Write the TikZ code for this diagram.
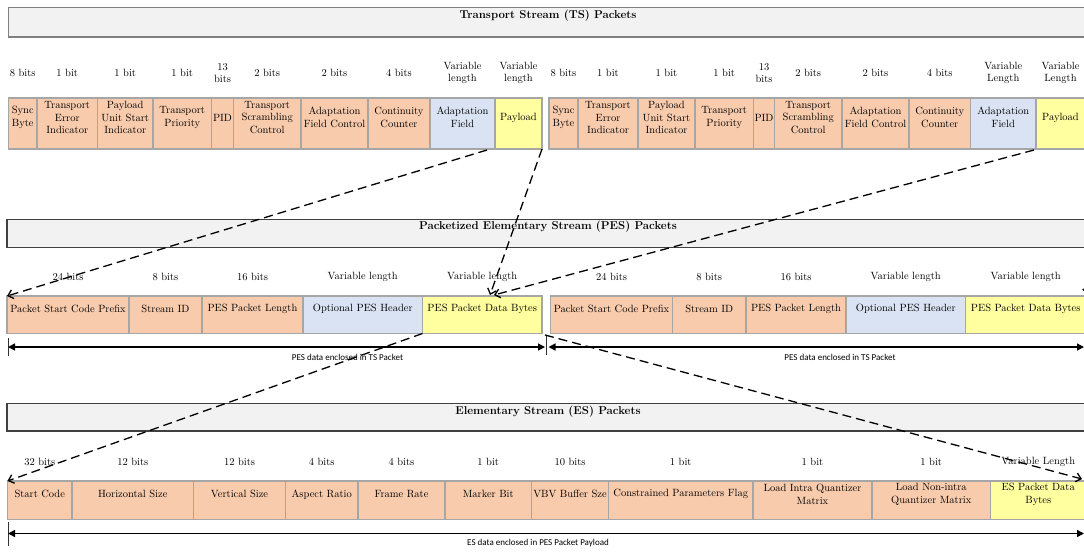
\documentclass[tikz,border=0pt]{standalone}
\usepackage{fontspec}
\newfontfamily\notefont{Carlito}
\usetikzlibrary{arrows.meta}

\definecolor{fieldpeach}{HTML}{F8CBAD}
\definecolor{fieldblue}{HTML}{DAE3F3}
\definecolor{fieldyellow}{HTML}{FFFF9F}
\definecolor{fieldline}{HTML}{A6A6A6}
\definecolor{bannerfill}{HTML}{F2F2F2}
\definecolor{bannerlight}{HTML}{808080}
\definecolor{bannerdark}{HTML}{404040}

\tikzset{
  field/.style={draw=fieldline, line width=1.4pt, inner sep=0pt, outer sep=0pt},
  peach/.style={fill=fieldpeach},
  blue/.style={fill=fieldblue},
  yellow/.style={fill=fieldyellow},
  fieldtext/.style={font=\fontsize{10.5}{12.5}\selectfont, align=center, inner sep=0pt},
  banner/.style={fill=bannerfill, line width=1.5pt, inner sep=0pt, outer sep=0pt},
  bannertext/.style={font=\fontsize{11.4}{13}\selectfont\bfseries, inner sep=0pt},
  notetext/.style={font=\notefont\fontsize{9}{10.5}\selectfont, inner sep=0pt},
  flow/.style={line width=1.3pt, dash pattern=on 9pt off 5pt,
    -{Straight Barb[length=5pt,width=9pt]}},
  span/.style={line width=1.4pt,
    {Triangle[length=7pt,width=7pt]}-{Triangle[length=7pt,width=7pt]}},
  tickmark/.style={line width=1pt, draw=black!80},
}

% one packet field: name, left x, right x, top y, bottom y, fill, text, size label, label y
\newcommand{\field}[9]{%
  \node[field,#6,minimum width={(#3-#2)*1pt},minimum height={(#5-#4)*1pt}]
    (#1) at ({(#2+#3)/2},{(#4+#5)/2}) {};
  \node[fieldtext] (#1-t) at ([yshift=6pt]#1.center) {#7};
  \node[fieldtext] (#1-b) at (#1.center |- 0,#9) {#8};
}

\begin{document}
\begin{tikzpicture}[x=1pt,y=-1pt]
\useasboundingbox (0,0) rectangle (1084,558);
\clip (0,0) rectangle (1084,558);

% ---------- banners ----------
\node[banner, draw=bannerlight, minimum width=1082pt, minimum height=29.5pt]
  (tsbar) at (549.5,22.25) {};
\node[bannertext] (tstitle) at (548,16) {Transport Stream (TS) Packets};

\node[banner, draw=bannerdark, minimum width=1083pt, minimum height=28pt]
  (pesbar) at (548.5,233.5) {};
\node[bannertext] (pestitle) at (548,227) {Packetized Elementary Stream (PES) Packets};

\node[banner, draw=bannerdark, minimum width=1083pt, minimum height=27.5pt]
  (esbar) at (548.5,417.25) {};
\node[bannertext] (estitle) at (548,412) {Elementary Stream (ES) Packets};

% ---------- TS packet 1 ----------
\field{ts1-sync}{8.5}{37}{98}{149}{peach}{Sync\\Byte}{8 bits}{73}
\field{ts1-tei}{37}{97.5}{98}{149}{peach}{Transport\\Error\\Indicator}{1 bit}{73}
\field{ts1-pusi}{97.5}{153}{98}{149}{peach}{Payload\\Unit Start\\Indicator}{1 bit}{73}
\field{ts1-tp}{153}{211.5}{98}{149}{peach}{Transport\\Priority}{1 bit}{73}
\field{ts1-pid}{211.5}{233.5}{98}{149}{peach}{PID}{13\\bits}{73}
\field{ts1-tsc}{233.5}{301}{98}{149}{peach}{Transport\\Scrambling\\Control}{2 bits}{73}
\field{ts1-afc}{301}{368}{98}{149}{peach}{Adaptation\\Field Control}{2 bits}{73}
\field{ts1-cc}{368}{430}{98}{149}{peach}{Continuity\\Counter}{4 bits}{73}
\field{ts1-af}{430}{495}{98}{149}{blue}{Adaptation\\Field}{Variable\\length}{73}
\field{ts1-pl}{495}{542}{98}{149}{yellow}{Payload}{Variable\\length}{73}

% ---------- TS packet 2 ----------
\field{ts2-sync}{549}{578}{98}{149}{peach}{Sync\\Byte}{8 bits}{73}
\field{ts2-tei}{578}{638}{98}{149}{peach}{Transport\\Error\\Indicator}{1 bit}{73}
\field{ts2-pusi}{638}{695}{98}{149}{peach}{Payload\\Unit Start\\Indicator}{1 bit}{73}
\field{ts2-tp}{695}{753.5}{98}{149}{peach}{Transport\\Priority}{1 bit}{73}
\field{ts2-pid}{753.5}{774.5}{98}{149}{peach}{PID}{13\\bits}{73}
\field{ts2-tsc}{774.5}{842}{98}{149}{peach}{Transport\\Scrambling\\Control}{2 bits}{73}
\field{ts2-afc}{842}{909}{98}{149}{peach}{Adaptation\\Field Control}{2 bits}{73}
\field{ts2-cc}{909}{970.5}{98}{149}{peach}{Continuity\\Counter}{4 bits}{73}
\field{ts2-af}{970.5}{1036}{98}{149}{blue}{Adaptation\\Field}{Variable\\Length}{73}
\field{ts2-pl}{1036}{1085}{98}{149}{yellow}{Payload}{Variable\\Length}{73}

% ---------- PES packet 1 ----------
\field{pes1-pscp}{7}{129}{296}{333.5}{peach}{Packet Start Code Prefix}{24 bits}{277}
\field{pes1-sid}{129}{202}{296}{333.5}{peach}{Stream ID}{8 bits}{277}
\field{pes1-len}{202}{303}{296}{333.5}{peach}{PES Packet Length}{16 bits}{277}
\field{pes1-hdr}{303}{422.5}{296}{333.5}{blue}{Optional PES Header}{Variable length}{277}
\field{pes1-data}{422.5}{542}{296}{333.5}{yellow}{PES Packet Data Bytes}{Variable length}{277}

% ---------- PES packet 2 ----------
\field{pes2-pscp}{550.5}{672.5}{296}{333.5}{peach}{Packet Start Code Prefix}{24 bits}{277}
\field{pes2-sid}{672.5}{746}{296}{333.5}{peach}{Stream ID}{8 bits}{277}
\field{pes2-len}{746}{846}{296}{333.5}{peach}{PES Packet Length}{16 bits}{277}
\field{pes2-hdr}{846}{965.5}{296}{333.5}{blue}{Optional PES Header}{Variable length}{277}
\field{pes2-data}{965.5}{1086}{296}{333.5}{yellow}{PES Packet Data Bytes}{Variable length}{277}

% ---------- ES packet ----------
\field{es-sc}{7.5}{72}{481}{519.5}{peach}{Start Code}{32 bits}{462}
\field{es-hs}{72}{193.5}{481}{519.5}{peach}{Horizontal Size}{12 bits}{462}
\field{es-vs}{193.5}{285.5}{481}{519.5}{peach}{Vertical Size}{12 bits}{462}
\field{es-ar}{285.5}{358}{481}{519.5}{peach}{Aspect Ratio}{4 bits}{462}
\field{es-fr}{358}{445}{481}{519.5}{peach}{Frame Rate}{4 bits}{462}
\field{es-mb}{445}{531.5}{481}{519.5}{peach}{Marker Bit}{1 bit}{462}
\field{es-vbv}{531.5}{608.5}{481}{519.5}{peach}{VBV Buffer Sze}{10 bits}{462}
\field{es-cpf}{608.5}{753}{481}{519.5}{peach}{Constrained Parameters Flag}{1 bit}{462}
\field{es-liqm}{753}{872}{481}{519.5}{peach}{Load Intra Quantizer\\Matrix}{1 bit}{462}
\field{es-lniqm}{872}{990.5}{481}{519.5}{peach}{Load Non-intra\\Quantizer Matrix}{1 bit}{462}
\field{es-data}{990.5}{1086}{481}{519.5}{yellow}{ES Packet Data\\Bytes}{Variable Length}{462}

% ---------- extent arrows ----------
\coordinate (pes1L) at (8,347);
\coordinate (pes1R) at (545,347);
\coordinate (pes2L) at (548.5,347);
\coordinate (pes2R) at (1084,347);
\coordinate (tickA1) at (8,338);   \coordinate (tickA2) at (8,356);
\coordinate (tickB1) at (546.7,335); \coordinate (tickB2) at (546.7,355);
\draw[tickmark] (tickA1) -- (tickA2);
\draw[tickmark] (tickB1) -- (tickB2);
\draw[span] (pes1L) -- (pes1R);
\draw[span] (pes2L) -- (pes2R);
\node[notetext] (pes1note) at (347.5,357.5) {PES data enclosed in TS Packet};
\node[notetext] (pes2note) at (840,357.5) {PES data enclosed in TS Packet};

\coordinate (esL) at (8,533.5);
\coordinate (esR) at (1084,533.5);
\coordinate (tickC1) at (8,522); \coordinate (tickC2) at (8,546);
\draw[tickmark] (tickC1) -- (tickC2);
\draw[span] (esL) -- (esR);
\node[notetext] (esnote) at (538,543.5) {ES data enclosed in PES Packet Payload};

% ---------- payload mapping lines ----------
\coordinate (m1) at (487,150);
\coordinate (m2) at (490,295);
\coordinate (m3) at (1034,150);
\coordinate (m4) at (494,295);
\coordinate (m5) at (545,335);
\coordinate (m6) at (1082,479);
\coordinate (m7) at (1093,151);
\coordinate (m8) at (1087,295);
\draw[flow] (m1) -- (pes1-pscp.north west);
\draw[flow] (ts1-pl.south east) -- (m2);
\draw[flow] (m3) -- (m4);
\draw[flow] (m7) -- (m8);
\draw[flow] (pes1-hdr.south east) -- (es-sc.north west);
\draw[flow] (m5) -- (m6);

\end{tikzpicture}
\end{document}
